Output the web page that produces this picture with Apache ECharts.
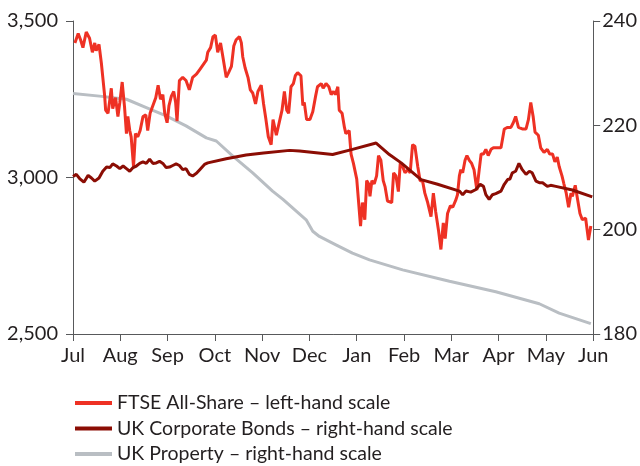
<!DOCTYPE html>
<html>
<head>
<meta charset="utf-8">
<script src="https://cdn.jsdelivr.net/npm/echarts@6/dist/echarts.min.js"></script>
<style>
html,body{margin:0;padding:0;background:#fff;}
#chart{width:640px;height:466px;}
</style>
</head>
<body>
<div id="chart"></div>
<script>
// Month tick labels (x = months since start of July)
var monthLabels = ['Jul','Aug','Sep','Oct','Nov','Dec','Jan','Feb','Mar','Apr','May','Jun'];

// FTSE All-Share (left-hand scale): time in months, index level
var ftseT = [0.04,0.11,0.16,0.21,0.28,0.35,0.41,0.46,0.49,0.55,0.60,0.63,0.67,0.69,0.74,0.78,0.81,0.84,0.90,0.95,
  0.99,1.04,1.09,1.13,1.16,1.20,1.23,1.28,1.32,1.37,1.42,1.48,1.54,1.58,1.63,1.69,1.75,1.80,1.85,1.90,
  1.94,1.99,2.03,2.08,2.13,2.17,2.20,2.25,2.32,2.39,2.46,2.53,2.61,2.68,2.75,2.82,2.85,2.91,2.96,3.01,
  3.06,3.12,3.17,3.24,3.29,3.35,3.40,3.45,3.52,3.56,3.59,3.64,3.70,3.75,3.80,3.86,3.91,3.98,4.03,4.08,
  4.13,4.19,4.23,4.30,4.34,4.42,4.47,4.52,4.56,4.61,4.66,4.70,4.75,4.82,4.86,4.89,4.94,5.01,5.07,5.13,
  5.17,5.25,5.29,5.35,5.41,5.46,5.51,5.55,5.60,5.63,5.69,5.74,5.77,5.84,5.88,5.93,6.00,6.04,6.08,6.12,
  6.17,6.21,6.25,6.28,6.32,6.37,6.42,6.46,6.51,6.56,6.60,6.65,6.69,6.74,6.78,6.83,6.88,6.92,6.97,7.02,
  7.08,7.13,7.18,7.23,7.29,7.34,7.39,7.44,7.50,7.57,7.62,7.67,7.73,7.78,7.83,7.87,7.92,7.98,8.03,8.10,
  8.13,8.17,8.20,8.24,8.29,8.33,8.38,8.43,8.48,8.54,8.59,8.63,8.68,8.73,8.78,8.84,8.89,8.98,9.05,9.12,
  9.19,9.26,9.31,9.36,9.42,9.50,9.58,9.63,9.68,9.73,9.77,9.84,9.89,9.96,10.03,10.08,10.14,10.19,10.24,10.28,
  10.34,10.38,10.43,10.48,10.53,10.56,10.62,10.67,10.72,10.77,10.84,10.90,10.95];
var ftseV = [3430,3460,3440,3415,3465,3445,3400,3430,3405,3425,3365,3320,3260,3215,3205,3250,3285,3220,3255,3195,
  3240,3305,3225,3140,3195,3150,3130,3035,3140,3130,3150,3195,3200,3150,3205,3230,3255,3295,3250,3265,
  3205,3175,3230,3260,3275,3240,3180,3310,3320,3310,3280,3320,3330,3345,3360,3375,3400,3415,3450,3455,
  3400,3430,3385,3320,3335,3355,3420,3440,3450,3430,3385,3350,3320,3280,3270,3235,3275,3295,3235,3185,
  3130,3105,3185,3135,3130,3215,3275,3215,3205,3290,3300,3325,3335,3325,3230,3240,3185,3185,3210,3260,
  3290,3300,3285,3300,3290,3265,3275,3265,3290,3215,3205,3160,3140,3150,3075,3045,2995,2990,2845,2920,
  2865,2990,2980,2940,2990,2980,3005,3070,3055,2990,2970,2925,2920,2920,3015,3005,2955,3045,3035,3015,
  3025,3015,3105,3100,3035,2990,2990,2950,2920,2875,2950,2890,2830,2770,2855,2805,2885,2910,2905,2930,
  2945,3005,3025,3015,3055,3070,3055,3045,3025,2960,3025,3075,3075,3090,3070,3090,3095,3095,3095,3155,
  3160,3160,3175,3195,3160,3155,3155,3185,3240,3195,3145,3135,3095,3080,3090,3075,3075,3050,3065,3035,
  3005,2980,2950,2905,2950,2940,2975,2930,2885,2865,2870,2800,2845];

// UK Corporate Bonds (right-hand scale)
var bondT = [0,0.07,0.14,0.23,0.32,0.39,0.46,0.55,0.63,0.71,0.78,0.84,0.92,0.99,1.06,1.13,1.20,1.27,1.34,1.41,
  1.48,1.55,1.62,1.69,1.76,1.83,1.90,1.97,2.04,2.11,2.18,2.25,2.32,2.39,2.46,2.53,2.61,2.68,2.78,2.85,
  3.24,3.66,4.03,4.58,4.79,5.49,5.91,6.41,6.69,6.94,7.36,7.71,8.17,8.24,8.31,8.41,8.52,8.61,8.68,8.73,
  8.80,8.87,8.94,9.05,9.12,9.19,9.24,9.29,9.36,9.43,9.50,9.58,9.65,9.71,9.79,9.86,9.93,10.03,10.10,10.21,
  10.56,10.98];
var bondV = [210.2,210.6,209.8,209.1,210.4,209.9,209.3,209.9,211.2,212.0,211.9,212.6,212.2,211.7,212.2,211.7,211.2,211.9,212.2,212.7,
  213.0,212.7,213.5,212.7,212.8,213.1,212.7,211.9,212.0,212.3,212.6,212.3,211.5,211.7,210.6,210.3,210.8,211.5,212.5,212.8,
  213.6,214.3,214.7,215.2,215.1,214.4,215.4,216.6,214.4,212.8,209.6,208.7,207.4,206.7,207.4,207.2,207.7,208.7,208.3,206.7,
  205.8,206.7,206.9,207.4,208.7,209.6,209.7,210.9,211.2,212.7,211.5,210.6,211.2,210.9,209.3,209.0,209.0,208.3,208.5,208.3,
  207.6,206.3];

// UK Property (right-hand scale)
var propT = [0,0.56,1.13,1.55,1.97,2.39,2.82,3.03,3.38,3.80,4.22,4.44,4.93,5.07,5.21,5.56,5.91,6.27,6.97,7.96,8.94,9.86,10.28,10.95];
var propV = [226.1,225.6,225.0,223.4,221.8,219.9,217.6,217.0,214.1,210.9,207.4,205.8,201.9,199.7,198.7,197.1,195.5,194.2,192.3,190.1,188.1,185.8,184.0,182.0];

function pairs(t, v){ var out=[]; for(var i=0;i<t.length;i++) out.push([t[i], v[i]]); return out; }

var textColor = '#231f20';
var axisColor = '#58595b';
var fontFam = 'Lato, "Open Sans", sans-serif';

var chart = echarts.init(document.getElementById('chart'), null, {renderer:'canvas'});
chart.setOption({
  animation: false,
  backgroundColor: '#ffffff',
  grid: { left: 73, right: 46, top: 21, bottom: 132, containLabel: false },
  legend: {
    orient: 'vertical', left: 75, top: 393, padding: 0, height: 73,
    icon: 'rect', itemWidth: 37, itemHeight: 4, itemGap: 5.5,
    textStyle: { color: textColor, fontSize: 19.5, fontFamily: fontFam, lineHeight: 20 },
    data: ['FTSE All-Share – left-hand scale','UK Corporate Bonds – right-hand scale','UK Property – right-hand scale']
  },
  xAxis: {
    type: 'value', min: 0, max: 11, interval: 1,
    axisLine: { show: true, lineStyle: { color: axisColor, width: 1 } },
    axisTick: { show: true, inside: false, length: 7, lineStyle: { color: axisColor } },
    axisLabel: { color: textColor, fontSize: 20, fontFamily: fontFam, margin: 12,
      formatter: function(v){ return monthLabels[Math.round(v)] || ''; } },
    splitLine: { show: false }
  },
  yAxis: [{
    type: 'value', min: 2500, max: 3500, interval: 500, position: 'left',
    axisLine: { show: true, lineStyle: { color: axisColor, width: 1 } },
    axisTick: { show: true, inside: false, length: 7, lineStyle: { color: axisColor } },
    axisLabel: { color: textColor, fontSize: 20, fontFamily: fontFam, margin: 15,
      formatter: function(v){ return v.toLocaleString('en-GB'); } },
    splitLine: { show: false }
  },{
    type: 'value', min: 180, max: 240, interval: 20, position: 'right',
    axisLine: { show: true, lineStyle: { color: axisColor, width: 1 } },
    axisTick: { show: true, inside: false, length: 7, lineStyle: { color: axisColor } },
    axisLabel: { color: textColor, fontSize: 20, fontFamily: fontFam, margin: 9 },
    splitLine: { show: false }
  }],
  series: [
    { name: 'UK Property – right-hand scale', type: 'line', yAxisIndex: 1, showSymbol: false,
      data: pairs(propT, propV), itemStyle: { color: '#b9bec3' },
      lineStyle: { color: '#b9bec3', width: 3 } },
    { name: 'FTSE All-Share – left-hand scale', type: 'line', yAxisIndex: 0, showSymbol: false,
      data: pairs(ftseT, ftseV), itemStyle: { color: '#ee3124' },
      lineStyle: { color: '#ee3124', width: 3 } },
    { name: 'UK Corporate Bonds – right-hand scale', type: 'line', yAxisIndex: 1, showSymbol: false,
      data: pairs(bondT, bondV), itemStyle: { color: '#8b0d04' },
      lineStyle: { color: '#8b0d04', width: 3 } }
  ]
});
</script>
</body>
</html>
